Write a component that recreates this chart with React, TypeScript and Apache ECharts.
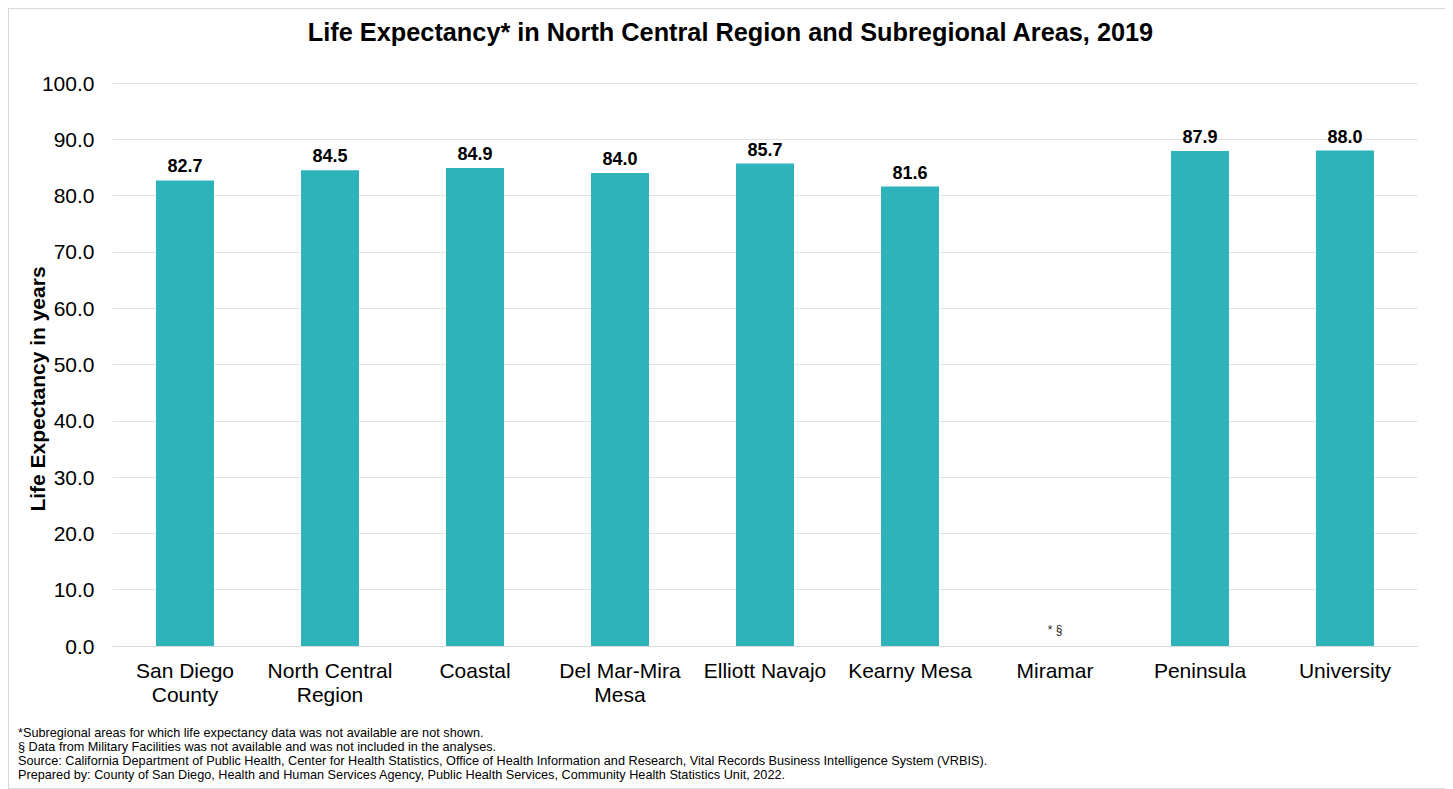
import React, { useEffect, useRef } from "react";
import * as echarts from "echarts";

const categories = [
  "San Diego\nCounty",
  "North Central\nRegion",
  "Coastal",
  "Del Mar-Mira\nMesa",
  "Elliott Navajo",
  "Kearny Mesa",
  "Miramar",
  "Peninsula",
  "University",
];
const lifeExpectancy: (number | null)[] = [82.7, 84.5, 84.9, 84.0, 85.7, 81.6, null, 87.9, 88.0];
const missingMarker = "* §";
const yTicks = { min: 0, max: 100, interval: 10 };
const titleText = "Life Expectancy* in North Central Region and Subregional Areas, 2019";
const yAxisTitle = "Life Expectancy in years";
const footnotes = [
  "*Subregional areas for which life expectancy data was not available are not shown.",
  "§ Data from Military Facilities was not available and was not included in the analyses.",
  "Source: California Department of Public Health, Center for Health Statistics, Office of Health Information and Research, Vital Records Business Intelligence System (VRBIS).",
  "Prepared by: County of San Diego, Health and Human Services Agency, Public Health Services, Community Health Statistics Unit, 2022.",
];

const FONT = "Liberation Sans, Arial, sans-serif";

export default function App() {
  const ref = useRef<HTMLDivElement>(null);
  useEffect(() => {
    if (!ref.current) return;
    const chart = echarts.init(ref.current, null, { renderer: "svg" });
    const seriesData = lifeExpectancy.map((v) =>
      v === null
        ? {
            value: 0,
            label: {
              show: true,
              formatter: missingMarker,
              fontSize: 12,
              fontWeight: "normal" as const,
              color: "#262626",
              distance: 10,
            },
          }
        : { value: v }
    );
    chart.setOption({
      animation: false,
      backgroundColor: "#ffffff",
      title: {
        text: titleText,
        left: "center",
        top: 5,
        textStyle: { fontFamily: FONT, fontSize: 25.3, fontWeight: "bold", color: "#000" },
      },
      grid: { left: 103.5, right: 34.5, top: 74, bottom: 142, containLabel: false },
      xAxis: {
        type: "category",
        data: categories,
        axisLine: { show: true, lineStyle: { color: "#d9d9d9", width: 1 } },
        axisTick: { show: false },
        axisLabel: {
          fontFamily: FONT,
          fontSize: 21,
          lineHeight: 24,
          color: "#000",
          margin: 12,
          interval: 0,
        },
      },
      yAxis: {
        type: "value",
        min: yTicks.min,
        max: yTicks.max,
        interval: yTicks.interval,
        axisLine: { show: false },
        axisTick: { show: false },
        splitLine: { lineStyle: { color: "#e3e3e3", width: 1 } },
        axisLabel: {
          fontFamily: FONT,
          fontSize: 21,
          color: "#000",
          margin: 18,
          formatter: (v: number) => v.toFixed(1),
        },
      },
      series: [
        {
          type: "bar",
          data: seriesData,
          barWidth: "40%",
          itemStyle: { color: "#2fb3bb" },
          label: {
            show: true,
            position: "top",
            distance: 5,
            fontFamily: FONT,
            fontSize: 18,
            fontWeight: "bold",
            color: "#000",
            formatter: (p: any) => Number(p.value).toFixed(1),
          },
        },
      ],
      graphic: [
        {
          type: "text",
          x: 28,
          y: 380,
          rotation: Math.PI / 2,
          style: {
            text: yAxisTitle,
            fontFamily: FONT,
            fontSize: 21,
            fontWeight: "bold",
            fill: "#000",
            align: "center",
            verticalAlign: "middle",
          },
        },
        ...footnotes.map((t, i) => ({
          type: "text",
          x: 9,
          y: 724 + i * 14,
          style: {
            text: t,
            fontFamily: FONT,
            fontSize: 12.7,
            fill: "#000",
            align: "left",
            verticalAlign: "middle",
          },
        })),
      ],
    });
    return () => chart.dispose();
  }, []);
  return (
    <div
      ref={ref}
      style={{ width: 1443, height: 779, border: "1px solid #d9d9d9", background: "#fff" }}
    />
  );
}
